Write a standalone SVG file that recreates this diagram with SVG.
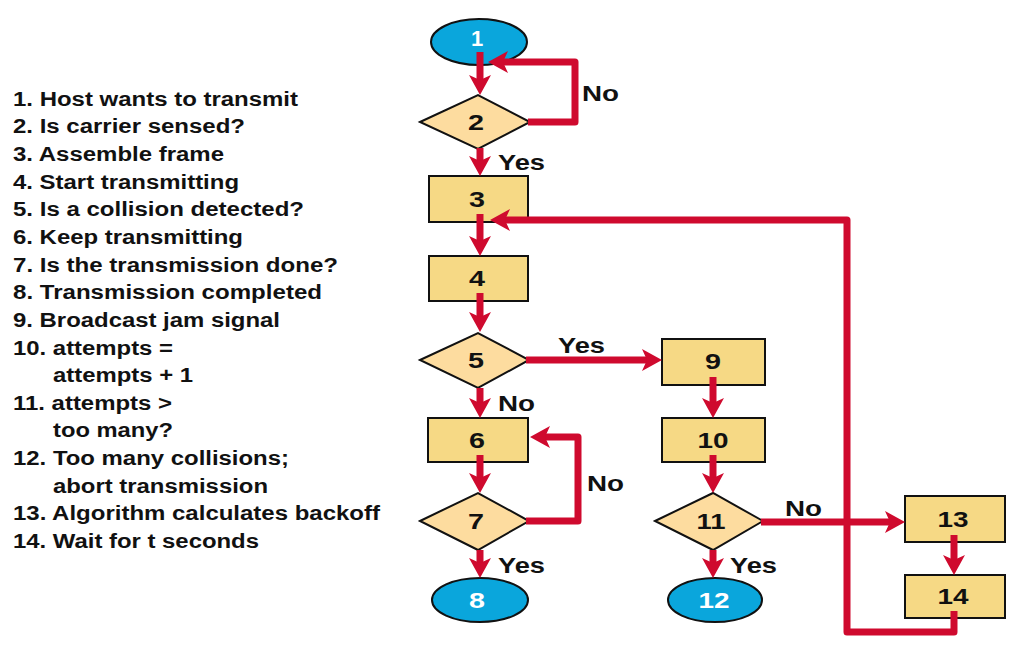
<svg xmlns="http://www.w3.org/2000/svg" width="1009" height="648" viewBox="0 0 1009 648">
<defs>
<style>
.leg{font-family:"Liberation Sans",Arial,sans-serif;font-weight:bold;font-size:20px;fill:#111}
.lbl{font-family:"Liberation Sans",Arial,sans-serif;font-weight:bold;font-size:22px;fill:#111}
.num{font-family:"Liberation Sans",Arial,sans-serif;font-weight:bold;font-size:22px;fill:#111;text-anchor:middle}
.wnum{font-family:"Liberation Sans",Arial,sans-serif;font-weight:bold;font-size:22px;fill:#fff;text-anchor:middle}
.term{fill:#0aa6dc;stroke:#111;stroke-width:2}
.proc{fill:#f6d985;stroke:#111;stroke-width:2}
.dec{fill:#fddc9f;stroke:#111;stroke-width:2}
.con{fill:none;stroke:#cf0a2e;stroke-width:7;stroke-linejoin:round;marker-end:url(#ah)}
</style>
<marker id="ah" viewBox="0 -12 22 24" markerWidth="22" markerHeight="24" refX="5" refY="0" orient="auto" markerUnits="userSpaceOnUse">
<path d="M0,-11 L20,0 L0,11 L5,0 Z" fill="#cf0a2e"/>
</marker>
</defs>
<rect width="1009" height="648" fill="#fff"/>
<g id="legend">
<text class="leg" x="13" y="106" textLength="285" lengthAdjust="spacingAndGlyphs">1. Host wants to transmit</text>
<text class="leg" x="13" y="133" textLength="232" lengthAdjust="spacingAndGlyphs">2. Is carrier sensed?</text>
<text class="leg" x="13" y="161" textLength="211" lengthAdjust="spacingAndGlyphs">3. Assemble frame</text>
<text class="leg" x="13" y="189" textLength="226" lengthAdjust="spacingAndGlyphs">4. Start transmitting</text>
<text class="leg" x="13" y="216" textLength="291" lengthAdjust="spacingAndGlyphs">5. Is a collision detected?</text>
<text class="leg" x="13" y="244" textLength="230" lengthAdjust="spacingAndGlyphs">6. Keep transmitting</text>
<text class="leg" x="13" y="272" textLength="325" lengthAdjust="spacingAndGlyphs">7. Is the transmission done?</text>
<text class="leg" x="13" y="299" textLength="309" lengthAdjust="spacingAndGlyphs">8. Transmission completed</text>
<text class="leg" x="13" y="327" textLength="267" lengthAdjust="spacingAndGlyphs">9. Broadcast jam signal</text>
<text class="leg" x="13" y="355" textLength="160" lengthAdjust="spacingAndGlyphs">10. attempts =</text>
<text class="leg" x="53" y="382" textLength="140" lengthAdjust="spacingAndGlyphs">attempts + 1</text>
<text class="leg" x="13" y="410" textLength="159" lengthAdjust="spacingAndGlyphs">11. attempts &gt;</text>
<text class="leg" x="53" y="437" textLength="120" lengthAdjust="spacingAndGlyphs">too many?</text>
<text class="leg" x="13" y="465" textLength="276" lengthAdjust="spacingAndGlyphs">12. Too many collisions;</text>
<text class="leg" x="53" y="493" textLength="215" lengthAdjust="spacingAndGlyphs">abort transmission</text>
<text class="leg" x="13" y="520" textLength="367" lengthAdjust="spacingAndGlyphs">13. Algorithm calculates backoff</text>
<text class="leg" x="13" y="548" textLength="246" lengthAdjust="spacingAndGlyphs">14. Wait for t seconds</text>
</g>
<g id="n1"><ellipse class="term" cx="479" cy="42" rx="48" ry="23"/><text class="wnum" x="477" y="46">1</text></g>
<g id="n2"><polygon class="dec" points="420,122 478,95 530,122 478,149"/><text class="num" x="476" y="130" textLength="16" lengthAdjust="spacingAndGlyphs">2</text></g>
<g id="n3"><rect class="proc" x="429" y="176" width="99" height="46"/><text class="num" x="477" y="207" textLength="16" lengthAdjust="spacingAndGlyphs">3</text></g>
<g id="n4"><rect class="proc" x="429" y="256" width="99" height="45"/><text class="num" x="477" y="286" textLength="16" lengthAdjust="spacingAndGlyphs">4</text></g>
<g id="n5"><polygon class="dec" points="420,360 478,333 529,360 478,388"/><text class="num" x="476" y="368" textLength="16" lengthAdjust="spacingAndGlyphs">5</text></g>
<g id="n6"><rect class="proc" x="428" y="418" width="100" height="44"/><text class="num" x="477" y="448" textLength="16" lengthAdjust="spacingAndGlyphs">6</text></g>
<g id="n7"><polygon class="dec" points="420,521 478,493 529,521 478,550"/><text class="num" x="476" y="529" textLength="16" lengthAdjust="spacingAndGlyphs">7</text></g>
<g id="n8"><ellipse class="term" cx="480" cy="600" rx="48" ry="22"/><text class="wnum" x="477" y="608" textLength="16" lengthAdjust="spacingAndGlyphs">8</text></g>
<g id="n9"><rect class="proc" x="662" y="339" width="103" height="46"/><text class="num" x="713" y="369" textLength="16" lengthAdjust="spacingAndGlyphs">9</text></g>
<g id="n10"><rect class="proc" x="662" y="418" width="103" height="44"/><text class="num" x="713" y="448" textLength="31" lengthAdjust="spacingAndGlyphs">10</text></g>
<g id="n11"><polygon class="dec" points="655,521 713,493 763,521 713,550"/><text class="num" x="711" y="529" textLength="29" lengthAdjust="spacingAndGlyphs">11</text></g>
<g id="n12"><ellipse class="term" cx="715" cy="600" rx="47" ry="22"/><text class="wnum" x="714" y="608" textLength="31" lengthAdjust="spacingAndGlyphs">12</text></g>
<g id="n13"><rect class="proc" x="905" y="496" width="100" height="46"/><text class="num" x="953" y="527" textLength="31" lengthAdjust="spacingAndGlyphs">13</text></g>
<g id="n14"><rect class="proc" x="905" y="575" width="100" height="43"/><text class="num" x="953" y="604" textLength="31" lengthAdjust="spacingAndGlyphs">14</text></g>
<g id="connectors">
<path class="con" d="M480,52 L480,80"/>
<path class="con" d="M528,122 L575,122 L575,62 L503,62"/>
<path class="con" d="M480,148 L480,161"/>
<path class="con" d="M480,214 L480,241"/>
<path class="con" d="M480,293 L480,317"/>
<path class="con" d="M526,360 L647,360"/>
<path class="con" d="M480,388 L480,403"/>
<path class="con" d="M480,455 L480,478"/>
<path class="con" d="M526,521 L578,521 L578,437 L545,437"/>
<path class="con" d="M480,550 L480,563"/>
<path class="con" d="M713,377 L713,403"/>
<path class="con" d="M713,455 L713,478"/>
<path class="con" d="M713,550 L713,563"/>
<path class="con" d="M761,522 L890,522"/>
<path class="con" d="M954,535 L954,560"/>
<path class="con" d="M954,611 L954,632 L847,632 L847,220 L505,220"/>
</g>
<g id="labels">
<text class="lbl" x="582" y="101" textLength="37" lengthAdjust="spacingAndGlyphs">No</text>
<text class="lbl" x="498" y="170" textLength="47" lengthAdjust="spacingAndGlyphs">Yes</text>
<text class="lbl" x="558" y="353" textLength="47" lengthAdjust="spacingAndGlyphs">Yes</text>
<text class="lbl" x="498" y="411" textLength="37" lengthAdjust="spacingAndGlyphs">No</text>
<text class="lbl" x="587" y="491" textLength="37" lengthAdjust="spacingAndGlyphs">No</text>
<text class="lbl" x="498" y="573" textLength="47" lengthAdjust="spacingAndGlyphs">Yes</text>
<text class="lbl" x="785" y="516" textLength="37" lengthAdjust="spacingAndGlyphs">No</text>
<text class="lbl" x="730" y="573" textLength="47" lengthAdjust="spacingAndGlyphs">Yes</text>
</g>
</svg>
